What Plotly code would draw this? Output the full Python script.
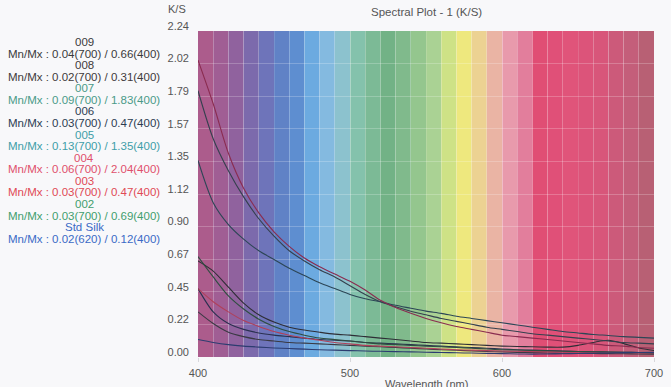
import plotly.graph_objects as go

# ---------------- data ----------------
wavelengths = list(range(400, 701, 10))

k009 = [0.66, 0.59, 0.48, 0.37, 0.29, 0.24, 0.205, 0.185, 0.17, 0.157, 0.15, 0.14, 0.13, 0.12, 0.11, 0.10,
        0.095, 0.09, 0.085, 0.08, 0.075, 0.072, 0.07, 0.068, 0.068, 0.08, 0.10, 0.115, 0.092, 0.062, 0.045]
k008 = [0.31, 0.23, 0.17, 0.14, 0.12, 0.11, 0.10, 0.095, 0.09, 0.085, 0.08, 0.075, 0.07, 0.065, 0.06, 0.055,
        0.05, 0.046, 0.042, 0.038, 0.035, 0.032, 0.03, 0.028, 0.026, 0.025, 0.024, 0.023, 0.022, 0.021, 0.02]
k007 = [1.83, 1.50, 1.28, 1.10, 0.95, 0.83, 0.73, 0.66, 0.60, 0.55, 0.49, 0.43, 0.38, 0.345, 0.315, 0.29,
        0.265, 0.245, 0.225, 0.205, 0.19, 0.175, 0.16, 0.15, 0.14, 0.13, 0.12, 0.11, 0.10, 0.095, 0.09]
k006 = [0.47, 0.31, 0.23, 0.19, 0.165, 0.15, 0.14, 0.13, 0.12, 0.115, 0.11, 0.10, 0.095, 0.09, 0.085, 0.08,
        0.075, 0.07, 0.065, 0.06, 0.055, 0.05, 0.047, 0.044, 0.041, 0.038, 0.036, 0.034, 0.032, 0.031, 0.03]
k005 = [1.35, 1.06, 0.91, 0.81, 0.73, 0.67, 0.61, 0.56, 0.51, 0.47, 0.43, 0.40, 0.38, 0.355, 0.335, 0.315,
        0.30, 0.28, 0.265, 0.25, 0.235, 0.22, 0.205, 0.19, 0.175, 0.165, 0.155, 0.148, 0.14, 0.135, 0.13]
k004 = [2.04, 1.74, 1.40, 1.16, 0.99, 0.86, 0.76, 0.68, 0.62, 0.57, 0.52, 0.46, 0.39, 0.34, 0.30, 0.265,
        0.235, 0.21, 0.19, 0.17, 0.15, 0.14, 0.13, 0.12, 0.11, 0.10, 0.09, 0.08, 0.075, 0.065, 0.06]
k003 = [0.47, 0.38, 0.31, 0.25, 0.21, 0.175, 0.15, 0.13, 0.115, 0.10, 0.09, 0.08, 0.075, 0.07, 0.065, 0.06,
        0.055, 0.05, 0.047, 0.044, 0.041, 0.039, 0.037, 0.035, 0.034, 0.033, 0.032, 0.031, 0.031, 0.03, 0.03]
k002 = [0.69, 0.55, 0.42, 0.33, 0.26, 0.21, 0.175, 0.15, 0.13, 0.12, 0.11, 0.10, 0.09, 0.085, 0.08, 0.075,
        0.07, 0.065, 0.06, 0.055, 0.05, 0.048, 0.045, 0.043, 0.04, 0.038, 0.036, 0.034, 0.033, 0.031, 0.03]
kstd = [0.12, 0.10, 0.085, 0.075, 0.068, 0.062, 0.058, 0.054, 0.05, 0.047, 0.044, 0.041, 0.039, 0.037, 0.035, 0.033,
        0.031, 0.029, 0.027, 0.025, 0.023, 0.021, 0.02, 0.021, 0.022, 0.024, 0.026, 0.028, 0.03, 0.031, 0.032]

series_names = ["009", "008", "007", "006", "005", "004", "003", "002", "Std Silk"]
series_values = [k009, k008, k007, k006, k005, k004, k003, k002, kstd]
series_minmax = ["0.04(700) / 0.66(400)", "0.02(700) / 0.31(400)", "0.09(700) / 1.83(400)",
                 "0.03(700) / 0.47(400)", "0.13(700) / 1.35(400)", "0.06(700) / 2.04(400)",
                 "0.03(700) / 0.47(400)", "0.03(700) / 0.69(400)", "0.02(620) / 0.12(400)"]
label_colors = ["#3a3a3a", "#3f3a3a", "#4a9a88", "#2c3c52", "#3e9ea8", "#e0506c", "#e04a55", "#3f9e6e", "#3a6ac6"]
line_colors = ["#2e2e36", "#3a3a44", "#34404e", "#2a3050", "#2c4656", "#8a2c50", "#b0405a", "#2e4e40", "#2c3c70"]

y_tickvals = [0, 0.224, 0.448, 0.672, 0.896, 1.12, 1.344, 1.568, 1.792, 2.016, 2.24]
y_ticktext = ["0.00", "0.22", "0.45", "0.67", "0.90", "1.12", "1.35", "1.57", "1.79", "2.02", "2.24"]
x_tickvals = [400, 500, 600, 700]

band_starts = list(range(400, 700, 10))
band_colors = ["#ac5c8c", "#a05e94", "#90629e", "#7c6aac", "#6e74ba", "#6082c6", "#5e8ed0", "#6caae0",
               "#84bae0", "#8cc2ce", "#84c2ac", "#7cba96", "#72b286", "#80ba8c", "#94c68e", "#aad294",
               "#cee286", "#eee87e", "#ecd292", "#eab4a4", "#e89aac", "#e27e9c", "#e04e74", "#e05078",
               "#e0547a", "#dc547a", "#d8567a", "#cc5a7a", "#c45e7a", "#b86074"]

# ---------------- figure ----------------
W, H = 671, 387
L, R, T, B = 198, 8, 31, 28
plot_h = H - T - B
plot_w = W - L - R

fig = go.Figure()

for name, vals, col in zip(series_names, series_values, line_colors):
    fig.add_trace(go.Scatter(x=wavelengths, y=vals, mode="lines", name=name,
                             line=dict(color=col, width=1.1, shape="spline", smoothing=0.8),
                             hoverinfo="skip"))

shapes = []
for x0, c in zip(band_starts, band_colors):
    shapes.append(dict(type="rect", xref="x", yref="paper", x0=x0, x1=x0 + 10, y0=0, y1=1,
                       fillcolor=c, line=dict(width=0), layer="below"))

def px_to_paper_y(py):
    return (H - B - py) / plot_h

def px_to_paper_x(pxx):
    return (pxx - L) / plot_w

annotations = []
line_y0, line_dy = 42, 11.65
for i, (nm, mm, col) in enumerate(zip(series_names, series_minmax, label_colors)):
    for j, txt in enumerate([nm, "Mn/Mx : " + mm]):
        annotations.append(dict(text=txt, xref="paper", yref="paper",
                                x=px_to_paper_x(82), y=px_to_paper_y(line_y0 + line_dy * (2 * i + j)),
                                xanchor="center", yanchor="middle", showarrow=False,
                                font=dict(family="Liberation Sans, Arial", size=11.5, color=col)))

annotations.append(dict(text="K/S", xref="paper", yref="paper", x=px_to_paper_x(188), y=px_to_paper_y(9),
                        xanchor="right", yanchor="middle", showarrow=False,
                        font=dict(family="Liberation Sans, Arial", size=11, color="#555")))
annotations.append(dict(text="Spectral Plot - 1 (K/S)", xref="paper", yref="paper", x=0.5, y=px_to_paper_y(12),
                        xanchor="center", yanchor="middle", showarrow=False,
                        font=dict(family="Liberation Sans, Arial", size=11.5, color="#555")))
annotations.append(dict(text="Wavelength (nm)", xref="paper", yref="paper", x=0.5, y=px_to_paper_y(378),
                        xanchor="center", yanchor="top", showarrow=False,
                        font=dict(family="Liberation Sans, Arial", size=11, color="#555")))

fig.update_layout(
    width=W, height=H,
    margin=dict(l=L, r=R, t=T, b=B, pad=0),
    paper_bgcolor="#f8f8fa", plot_bgcolor="#f8f8fa",
    showlegend=False,
    shapes=shapes, annotations=annotations,
    font=dict(family="Liberation Sans, Arial", size=11, color="#555"),
    xaxis=dict(range=[400, 700], tickvals=x_tickvals, ticks="outside", ticklen=4, tickcolor="#d8d8dc",
               showgrid=True, gridcolor="rgba(255,255,255,0.25)", gridwidth=1,
               minor=dict(dtick=10, showgrid=True, gridcolor="rgba(255,255,255,0.13)", gridwidth=1),
               zeroline=False, showline=False, ticklabelstandoff=2, ticklabeloverflow="allow",
               tickfont=dict(size=11, color="#555")),
    yaxis=dict(range=[0, 2.24], tickvals=y_tickvals, ticktext=y_ticktext, ticks="",
               showgrid=True, gridcolor="rgba(255,255,255,0.22)", gridwidth=1,
               zeroline=False, showline=False, ticklabelstandoff=8, ticklabelshift=-5,
               ticklabeloverflow="allow",
               tickfont=dict(size=11, color="#555")),
)

fig.write_html("out.html", config={"displayModeBar": False},
               post_script="document.body.style.margin='0px';document.body.style.overflow='hidden';")
